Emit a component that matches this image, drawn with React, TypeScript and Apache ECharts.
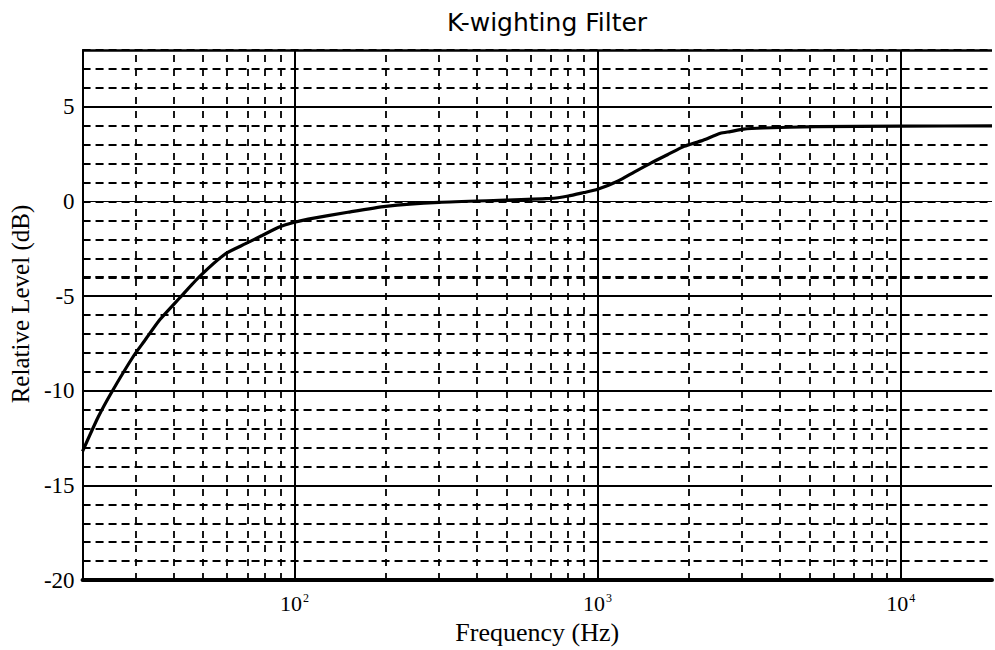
import React, { useEffect, useRef } from "react";
import * as echarts from "echarts";

// Curve readings (frequency in Hz, relative level in dB)
const freqHz = [20, 22.5, 25, 29.5, 32, 36, 41.8, 48.6, 59.4, 69, 78.2, 88.7, 100, 111, 150, 200, 300, 500, 700, 800, 900, 1000, 1169, 1320, 1503, 1700, 1930, 2200, 2542, 2740, 3028, 3520, 5242, 10000, 20000];
const levelDb = [-13.2, -11.4, -10.05, -8.15, -7.37, -6.24, -5.1, -3.97, -2.75, -2.23, -1.8, -1.36, -1.1, -0.93, -0.57, -0.26, -0.05, 0.07, 0.16, 0.29, 0.47, 0.64, 1.08, 1.55, 2.04, 2.47, 2.91, 3.2, 3.6, 3.69, 3.82, 3.88, 3.95, 3.98, 3.99];

// Axis extents and grid lines
const xMin = 20;
const xMax = 20000;
const yMin = -20;
const yMax = 8;
const xMajorLines = [100, 1000, 10000];
const xMinorLines = [30, 40, 50, 60, 70, 80, 90, 200, 300, 400, 500, 600, 700, 800, 900, 2000, 3000, 4000, 5000, 6000, 7000, 8000, 9000];
const yMajorLines = [5, -5, -10, -15];
const yThinLines = [0];
const yBoldMinorLines = [-4];
const yTopLine = [8];

const titleText = "K-wighting Filter";
const xName = "Frequency (Hz)";
const yName = "Relative Level (dB)";

export default function App() {
  const ref = useRef<HTMLDivElement>(null);
  useEffect(() => {
    document.body.style.margin = "0";
    const chart = echarts.init(ref.current!, null, { renderer: "svg" });
    const serif = "'Liberation Serif', 'DejaVu Serif', serif";
    const mk = (vals: number[], axis: "xAxis" | "yAxis", lineStyle: any) => ({
      type: "line",
      data: [],
      silent: true,
      markLine: {
        silent: true,
        symbol: "none",
        animation: false,
        label: { show: false },
        lineStyle,
        emphasis: { disabled: true },
        data: vals.map((v) => ({ [axis]: v })),
      },
    });
    chart.setOption({
      animation: false,
      backgroundColor: "#ffffff",
      title: {
        text: titleText,
        left: 542,
        textAlign: "center",
        top: 5,
        textStyle: {
          fontFamily: "'DejaVu Sans', 'Liberation Sans', sans-serif",
          fontWeight: "normal",
          fontSize: 25,
          color: "#000",
        },
      },
      grid: { left: 80, top: 50, right: -6, bottom: 65 },
      xAxis: {
        type: "log",
        logBase: 10,
        min: xMin,
        max: xMax,
        name: xName,
        nameLocation: "middle",
        nameGap: 33,
        nameTextStyle: { fontFamily: serif, fontSize: 26, color: "#000" },
        axisLine: { show: true, onZero: false, lineStyle: { color: "#000", width: 4 } },
        axisTick: { show: false },
        splitLine: { show: false },
        axisLabel: {
          margin: 12,
          showMinLabel: true,
          showMaxLabel: true,
          formatter: (v: number) => {
            const e = Math.log10(v);
            const r = Math.round(e);
            if (Math.abs(e - r) < 1e-6 && r >= 2 && r <= 4) return "10{sup|" + r + "}";
            return "";
          },
          rich: {
            sup: { fontSize: 12, fontFamily: serif, color: "#000", verticalAlign: "top", padding: [0, 0, 8, 1] },
          },
          fontFamily: serif,
          fontSize: 22,
          color: "#000",
        },
      },
      yAxis: {
        type: "value",
        min: yMin,
        max: yMax,
        interval: 1,
        name: yName,
        nameLocation: "middle",
        nameGap: 47,
        nameRotate: 90,
        nameTextStyle: { fontFamily: serif, fontSize: 25, color: "#000", padding: [0, 0, 0, 22] },
        axisLine: { show: true, onZero: false, lineStyle: { color: "#000", width: 2 } },
        axisTick: { show: false },
        axisLabel: {
          margin: 8,
          fontFamily: serif,
          fontSize: 23,
          color: "#000",
          formatter: (v: number) => (v % 5 === 0 && v !== yMax ? String(v) : ""),
        },
        splitLine: {
          show: true,
          lineStyle: { color: "#000", width: 1.8, type: [8, 5] },
        },
      },
      series: [
        mk(xMinorLines, "xAxis", { color: "#000", width: 1.8, type: [7, 7] }),
        mk(xMajorLines, "xAxis", { color: "#000", width: 2, type: "solid" }),
        mk(yMajorLines, "yAxis", { color: "#000", width: 2, type: "solid" }),
        mk(yThinLines, "yAxis", { color: "#000", width: 1, type: "solid" }),
        mk(yBoldMinorLines, "yAxis", { color: "#000", width: 3, type: [8, 5] }),
        mk(yTopLine, "yAxis", { color: "#000", width: 2.5, type: "solid" }),
        {
          type: "line",
          data: freqHz.map((f, i) => [f, levelDb[i]]),
          symbol: "none",
          smooth: 0.2,
          silent: true,
          lineStyle: { color: "#000", width: 3.2 },
          z: 5,
        },
      ],
    });
    return () => chart.dispose();
  }, []);
  return <div ref={ref} style={{ position: "fixed", left: 0, top: 0, width: 995, height: 650 }} />;
}
